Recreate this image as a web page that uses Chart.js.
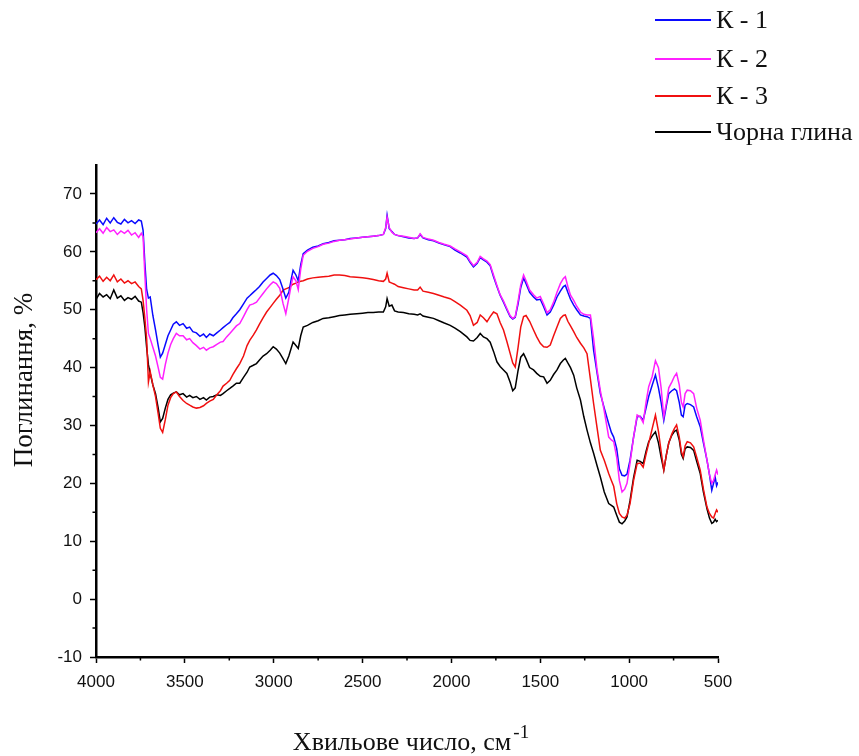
<!DOCTYPE html>
<html><head><meta charset="utf-8">
<script src="https://cdn.jsdelivr.net/npm/chart.js@4/dist/chart.umd.min.js"></script>
<style>html,body{margin:0;padding:0;background:#fff;} canvas{display:block}</style>
</head><body>
<canvas id="c" width="859" height="756"></canvas>
<script>
// Wavenumbers (cm^-1)
const wavenumbers = [
4000,3980,3960,3940,3920,3900,3880,3860,3840,3820,
3800,3780,3760,3745,3735,3725,3715,3705,3695,3680,
3665,3650,3638,3625,3610,3595,3580,3565,3548,3530,
3510,3490,3473,3455,3435,3415,3395,3379,3360,3340,
3320,3300,3285,3265,3247,3230,3210,3191,3170,3150,
3135,3115,3097,3080,3060,3040,3020,3003,2985,2966,
2947,2932,2915,2900,2891,2875,2862,2848,2834,2810,
2780,2750,2722,2690,2660,2630,2600,2570,2533,2500,
2470,2440,2410,2383,2370,2362,2350,2335,2320,2300,
2270,2240,2210,2190,2176,2160,2130,2101,2070,2040,
2007,1980,1950,1913,1895,1876,1855,1838,1820,1800,
1782,1763,1744,1726,1707,1688,1670,1655,1641,1625,
1610,1594,1580,1560,1538,1520,1500,1481,1462,1444,
1425,1406,1387,1370,1359,1345,1330,1312,1295,1274,
1255,1237,1218,1200,1180,1162,1140,1115,1100,1087,
1070,1055,1040,1025,1012,995,975,955,938,921,
905,890,870,852,835,820,805,790,777,760,
745,733,718,706,696,685,673,655,637,620,
600,582,562,548,535,525,516,508,500];

const k1 = [
64.8,65.5,64.7,65.8,65.0,65.9,65.1,64.8,65.6,65.0,
65.4,64.9,65.5,65.3,63.7,58.0,53.5,52.0,52.2,49.0,
46.5,43.8,41.8,42.5,44.0,45.5,46.5,47.5,47.9,47.3,
47.6,46.8,47.0,46.2,46.0,45.4,45.8,45.2,45.8,45.5,
46.0,46.5,46.9,47.4,47.8,48.6,49.3,50.0,51.0,52.0,
52.4,53.0,53.5,54.0,54.8,55.4,56.0,56.3,55.9,55.2,
53.5,52.0,53.0,55.5,56.8,56.0,55.0,57.8,59.7,60.3,
60.8,61.0,61.4,61.6,61.9,62.0,62.1,62.3,62.4,62.5,
62.6,62.7,62.8,63.0,64.0,66.3,64.0,63.5,63.0,62.8,
62.6,62.4,62.3,62.4,63.0,62.4,62.1,61.9,61.5,61.2,
60.9,60.3,59.8,59.1,58.2,57.4,58.0,59.0,58.6,58.2,
57.6,55.7,54.0,52.5,51.3,50.0,48.8,48.4,48.7,51.0,
53.8,55.5,54.5,53.0,52.2,51.7,51.8,50.5,49.1,49.6,
50.8,52.2,53.2,54.0,54.2,53.0,51.8,50.8,50.0,49.1,
48.9,48.8,48.5,43.0,39.0,35.5,33.0,30.3,28.8,28.0,
26.0,22.5,21.4,21.3,21.6,24.0,28.0,31.5,31.6,30.9,
33.0,35.0,37.0,38.7,36.5,34.0,30.9,33.5,35.5,36.0,
36.3,36.0,34.0,31.8,31.5,33.5,33.8,33.6,33.2,31.5,
29.8,27.0,24.0,21.5,18.8,20.0,21.1,19.6,20.2];

const k2 = [
63.3,64.0,63.2,64.2,63.5,63.8,63.0,63.6,63.2,63.7,
62.9,63.3,62.5,63.2,62.6,56.0,50.0,45.9,45.0,43.5,
42.0,40.0,38.3,38.0,40.5,42.5,44.0,45.0,45.9,45.5,
45.5,44.8,45.0,44.3,43.8,43.2,43.5,43.0,43.4,43.6,
44.0,44.4,44.5,45.3,45.9,46.5,47.2,47.6,48.8,50.0,
50.8,51.0,51.3,52.0,52.8,53.6,54.3,54.8,54.5,53.7,
51.0,49.3,52.0,54.5,55.7,55.0,53.5,57.0,59.4,60.1,
60.6,60.9,61.3,61.5,61.8,62.0,62.1,62.2,62.4,62.5,
62.6,62.7,62.8,63.0,64.2,66.0,64.2,63.4,63.0,62.8,
62.7,62.5,62.3,62.4,63.1,62.5,62.2,62.0,61.6,61.3,
61.0,60.5,60.0,59.3,58.4,57.6,58.2,59.2,58.8,58.4,
57.8,56.0,54.2,52.6,51.5,50.2,49.0,48.5,48.8,51.5,
54.3,56.0,55.0,53.4,52.6,52.0,52.3,51.0,49.5,50.0,
51.3,53.0,54.5,55.4,55.7,54.0,52.5,51.6,50.6,49.6,
49.2,49.1,49.1,45.0,39.5,36.0,32.5,28.0,27.5,27.2,
24.5,20.5,18.5,19.0,20.0,23.5,28.0,31.8,31.5,30.5,
34.0,36.7,38.5,41.2,40.0,36.5,31.5,34.0,36.5,37.5,
38.5,39.0,37.0,34.0,33.2,35.5,36.1,36.0,35.5,33.0,
30.9,27.5,24.0,21.5,20.0,20.5,21.5,22.3,21.5];

const k3 = [
55.2,55.8,54.9,55.6,55.0,56.0,54.8,55.3,54.6,55.0,
54.5,54.8,54.0,53.6,51.6,48.5,45.0,37.5,39.3,37.0,
35.0,32.0,29.5,28.8,31.0,33.5,34.8,35.5,35.8,35.0,
34.3,33.8,33.5,33.2,33.0,33.1,33.4,33.8,34.2,34.5,
35.3,36.0,36.8,37.3,37.8,38.8,39.8,40.7,42.0,43.8,
44.7,45.6,46.5,47.5,48.6,49.6,50.4,51.1,51.8,52.5,
53.4,53.6,53.8,54.2,54.4,54.6,54.8,54.9,55.0,55.3,
55.5,55.6,55.7,55.8,56.0,56.0,55.9,55.7,55.6,55.5,
55.4,55.2,55.0,54.9,55.3,56.3,54.8,54.6,54.4,54.0,
53.8,53.6,53.4,53.4,53.9,53.2,53.0,52.8,52.5,52.2,
51.9,51.4,50.8,49.9,49.0,47.3,47.8,49.1,48.6,47.9,
48.8,49.6,49.3,47.8,46.5,44.5,42.5,40.8,40.1,43.5,
47.0,48.8,49.0,48.0,46.5,45.3,44.2,43.6,43.5,43.9,
45.5,47.0,48.5,49.0,49.1,48.0,47.2,46.2,45.2,44.2,
43.4,42.4,38.0,33.8,29.5,25.7,24.0,21.7,20.5,19.5,
16.5,14.8,14.2,14.0,14.5,16.5,20.5,23.4,23.5,22.8,
25.0,26.9,29.5,31.8,29.0,25.5,22.3,25.0,27.0,28.5,
29.5,30.1,28.0,25.5,24.6,26.5,27.2,27.0,26.3,24.5,
22.3,19.0,15.9,14.8,14.2,14.0,14.8,15.4,15.0];

const blackClay = [
51.8,52.8,52.2,52.6,51.9,53.4,52.0,52.4,51.6,52.1,
51.8,52.3,51.5,51.3,49.5,47.0,43.5,40.5,39.0,37.0,
35.5,33.0,30.6,31.2,33.0,34.5,35.3,35.6,35.8,35.3,
35.5,34.9,35.2,34.8,35.0,34.5,34.8,34.4,34.9,35.0,
35.3,35.2,35.5,36.0,36.4,36.8,37.3,37.3,38.3,39.2,
40.1,40.4,40.7,41.3,42.0,42.4,43.0,43.6,43.2,42.5,
41.5,40.7,42.0,43.5,44.4,43.8,43.3,45.5,47.0,47.3,
47.8,48.1,48.5,48.6,48.8,49.0,49.1,49.2,49.3,49.4,
49.5,49.5,49.6,49.6,50.5,51.9,50.6,50.8,49.8,49.6,
49.5,49.3,49.2,49.1,49.3,48.9,48.7,48.5,48.1,47.7,
47.3,46.8,46.2,45.3,44.7,44.6,45.2,45.9,45.3,45.0,
44.4,42.8,41.0,40.2,39.6,39.0,37.5,36.0,36.5,39.5,
41.8,42.4,41.5,40.0,39.6,39.0,38.5,38.4,37.3,37.8,
38.8,39.6,40.7,41.3,41.6,40.8,40.0,38.7,36.5,34.4,
31.5,29.2,27.0,25.2,23.0,21.1,18.5,16.5,16.2,15.9,
14.5,13.3,13.0,13.5,14.2,17.0,21.0,24.0,23.8,23.4,
25.5,27.2,28.2,28.9,27.0,24.5,22.3,25.0,27.0,28.3,
29.0,29.2,27.5,25.0,24.3,26.0,26.3,26.2,25.7,23.8,
21.7,18.5,15.6,14.0,13.1,13.3,13.8,13.4,13.6];

const seriesLabels = ['К - 1', 'К - 2', 'К - 3', 'Чорна глина'];
const seriesColors = ['#0a0aff', '#ff20ff', '#f01010', '#000000'];
const seriesValues = [k1, k2, k3, blackClay];
const seriesOrder = [1, 0, 2, 3];

const xTicks = [4000, 3500, 3000, 2500, 2000, 1500, 1000, 500];
const xMinorTicks = [3750, 3250, 2750, 2250, 1750, 1250, 750];
const yTicks = [-10, 0, 10, 20, 30, 40, 50, 60, 70];
const yMinorTicks = [-5, 5, 15, 25, 35, 45, 55, 65];

const yTitle = 'Поглинання, %';
const xTitle = 'Хвильове число, см';
const xTitleSup = '-1';

const serif = '"Liberation Serif", "Times New Roman", serif';
const sans = '"Liberation Sans", Arial, sans-serif';

const extras = {
  id: 'extras',
  afterDraw(chart) {
    const ctx = chart.ctx;
    const xs = chart.scales.x, ys = chart.scales.y;
    const ca = chart.chartArea;
    ctx.save();
    // minor ticks
    ctx.strokeStyle = '#000';
    ctx.lineWidth = 1.5;
    ctx.beginPath();
    xMinorTicks.forEach(v => {
      const px = xs.getPixelForValue(v);
      ctx.moveTo(px, ca.bottom); ctx.lineTo(px, ca.bottom + 3.5);
    });
    yMinorTicks.forEach(v => {
      const py = ys.getPixelForValue(v);
      ctx.moveTo(ca.left - 3.5, py); ctx.lineTo(ca.left, py);
    });
    ctx.stroke();

    // y title
    ctx.fillStyle = '#111';
    ctx.font = '27px ' + serif;
    ctx.textAlign = 'center';
    ctx.textBaseline = 'middle';
    ctx.save();
    ctx.translate(25, 380);
    ctx.rotate(-Math.PI / 2);
    ctx.fillText(yTitle, 0, 0);
    ctx.restore();

    // x title with superscript
    ctx.font = '26px ' + serif;
    ctx.textAlign = 'left';
    ctx.textBaseline = 'alphabetic';
    const w1 = ctx.measureText(xTitle).width;
    ctx.font = '19px ' + serif;
    const w2 = ctx.measureText(xTitleSup).width;
    const startX = 404 + 6 - (w1 + w2) / 2;
    ctx.font = '26px ' + serif;
    ctx.fillText(xTitle, startX, 750);
    ctx.font = '19px ' + serif;
    ctx.fillText(xTitleSup, startX + w1 + 2, 738);

    // legend
    const rowsY = [20, 59, 96, 132];
    chart.data.datasets.forEach((ds, i) => {
      const y = rowsY[i];
      ctx.strokeStyle = ds.borderColor;
      ctx.lineWidth = 2;
      ctx.beginPath();
      ctx.moveTo(655, y); ctx.lineTo(711, y);
      ctx.stroke();
      ctx.fillStyle = '#111';
      ctx.font = '26px ' + serif;
      ctx.textBaseline = 'middle';
      ctx.textAlign = 'left';
      ctx.fillText(ds.label, 716, y + 1);
    });
    ctx.restore();
  }
};

const datasets = seriesValues.map((vals, i) => ({
  label: seriesLabels[i],
  data: wavenumbers.map((w, j) => ({ x: w, y: vals[j] })),
  borderColor: seriesColors[i],
  borderWidth: 1.5,
  pointRadius: 0,
  tension: 0,
  fill: false,
  order: seriesOrder[i]
}));

new Chart(document.getElementById('c').getContext('2d'), {
  type: 'line',
  data: { datasets },
  options: {
    responsive: false,
    animation: false,
    events: [],
    layout: { padding: { top: 165, right: 141, left: 0, bottom: 0 } },
    plugins: { legend: { display: false }, tooltip: { enabled: false } },
    scales: {
      x: {
        type: 'linear', reverse: true, min: 500, max: 4000,
        afterBuildTicks: s => { s.ticks = xTicks.map(v => ({ value: v })); },
        afterFit: s => { s.height = 99; },
        grid: { drawOnChartArea: false, drawTicks: true, tickLength: 6, tickColor: '#000', tickWidth: 1.5 },
        border: { display: true, color: '#000', width: 2.5 },
        ticks: { font: { family: sans, size: 17 }, color: '#111', padding: 9, maxRotation: 0, autoSkip: false,
                 callback: v => String(v) }
      },
      y: {
        type: 'linear', min: -10, max: 75,
        afterBuildTicks: s => { s.ticks = yTicks.map(v => ({ value: v })); },
        afterFit: s => { s.width = 96; },
        grid: { drawOnChartArea: false, drawTicks: true, tickLength: 6, tickColor: '#000', tickWidth: 1.5 },
        border: { display: true, color: '#000', width: 2.5 },
        ticks: { font: { family: sans, size: 17 }, color: '#111', padding: 8, autoSkip: false,
                 callback: v => String(v) }
      }
    }
  },
  plugins: [extras]
});
</script>
</body></html>
